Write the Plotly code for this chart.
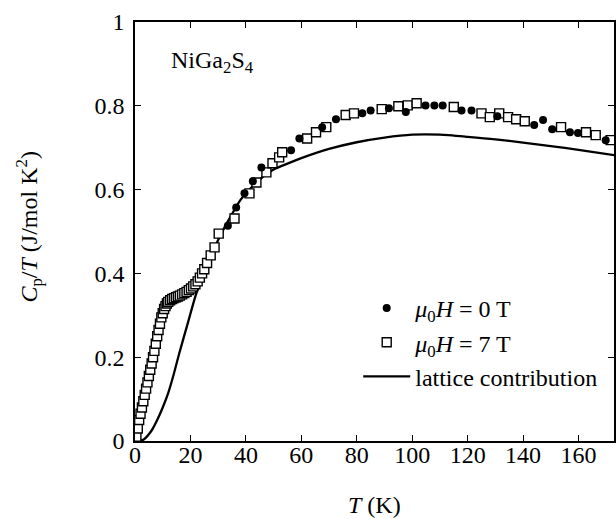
import plotly.graph_objects as go

# ---- data ----
T_0T = [33.5, 36.5, 39.5, 42.5, 45.6, 56.3, 59.3, 67.5, 72.5, 82.0, 85.0, 91.6, 97.7,
        104.8, 108.0, 111.0, 117.8, 121.4, 130.7, 144.0, 147.2, 150.5, 156.9, 159.8, 169.8]
C_0T = [0.514, 0.557, 0.591, 0.620, 0.653, 0.694, 0.722, 0.749, 0.768, 0.782, 0.789, 0.794, 0.785,
        0.801, 0.801, 0.801, 0.789, 0.789, 0.775, 0.754, 0.766, 0.744, 0.737, 0.735, 0.718]

T_7T = [0.5, 1.0, 1.5, 2.0, 2.5, 3.0, 3.5, 4.0, 4.5, 5.0, 5.5, 6.0, 6.5, 7.0, 7.5, 8.0, 8.5,
        9.0, 9.5, 10.0, 10.5, 11.0, 11.5, 12.0, 12.7, 13.4, 14.1, 14.8, 15.5, 16.2, 17.0,
        17.8, 18.6, 19.4, 20.2, 21.0, 21.8, 22.6, 23.4, 24.2, 25.0, 26.0, 27.3, 28.7, 30.2,
        35.9, 41.3, 43.8, 47.4, 49.6, 52.0, 53.1, 62.1, 65.3, 69.0, 76.0, 79.0, 89.0, 95.0,
        98.4, 101.6, 115.0, 125.0, 128.0, 131.4, 134.6, 137.5, 140.6, 153.7, 162.7, 166.2, 171.6]
C_7T = [0.010, 0.030, 0.050, 0.065, 0.080, 0.095, 0.110, 0.125, 0.140, 0.155, 0.170, 0.185,
        0.200, 0.215, 0.232, 0.250, 0.265, 0.280, 0.295, 0.305, 0.315, 0.322, 0.328, 0.332,
        0.336, 0.339, 0.341, 0.343, 0.345, 0.347, 0.350, 0.353, 0.356, 0.360, 0.364, 0.369,
        0.374, 0.381, 0.390, 0.400, 0.410, 0.425, 0.443, 0.462, 0.495, 0.531, 0.591, 0.617,
        0.641, 0.663, 0.677, 0.689, 0.722, 0.737, 0.749, 0.778, 0.782, 0.792, 0.799, 0.801,
        0.806, 0.797, 0.782, 0.773, 0.782, 0.773, 0.768, 0.763, 0.749, 0.737, 0.730, 0.718]

T_lat = [0, 3, 6, 8, 10, 12, 14, 16, 19, 22, 26, 30, 34, 38, 42, 46, 50, 55, 60, 70, 80, 90,
         100, 110, 120, 130, 140, 150, 160, 173]
C_lat = [0.0, 0.003, 0.025, 0.05, 0.08, 0.115, 0.16, 0.21, 0.28, 0.35, 0.42, 0.48, 0.53,
         0.575, 0.605, 0.63, 0.648, 0.662, 0.675, 0.697, 0.713, 0.724, 0.731, 0.731, 0.726,
         0.72, 0.712, 0.704, 0.695, 0.682]

x_ticks = [0, 20, 40, 60, 80, 100, 120, 140, 160]
y_ticks = [0, 0.2, 0.4, 0.6, 0.8, 1]
y_ticklabels = ["0", "0.2", "0.4", "0.6", "0.8", "1"]

FONT = "Liberation Serif, Times New Roman, serif"

fig = go.Figure()
fig.add_trace(go.Scatter(
    x=T_lat, y=C_lat, mode="lines", name="lattice contribution",
    line=dict(color="black", width=2.3, shape="spline", smoothing=0.6),
    legendrank=3, legendgroup="c"))
fig.add_trace(go.Scatter(
    x=T_7T, y=C_7T, mode="markers",
    name="<i>μ</i><sub>0</sub><i>H</i> = 7 T",
    marker=dict(symbol="square", size=9, color="white",
                line=dict(color="black", width=1.4)),
    legendrank=2, legendgroup="b"))
fig.add_trace(go.Scatter(
    x=T_0T, y=C_0T, mode="markers",
    name="<i>μ</i><sub>0</sub><i>H</i> = 0 T",
    marker=dict(symbol="circle", size=8, color="black"),
    legendrank=1, legendgroup="a"))

axis_common = dict(
    showline=True, linecolor="black", linewidth=1.5, mirror="ticks",
    ticks="inside", ticklen=6, tickwidth=1.2, tickcolor="black",
    showgrid=False, zeroline=False,
    tickfont=dict(family=FONT, size=24, color="black"),
)

fig.update_xaxes(range=[0, 172.8], tickvals=x_ticks, ticklabelstandoff=-9, **axis_common)
fig.update_yaxes(range=[0, 1], tickvals=y_ticks, ticktext=y_ticklabels,
                 ticklabelstandoff=4, **axis_common)

fig.add_annotation(
    text="<i>T</i> (K)", xref="paper", yref="paper", x=0.5, y=-0.152,
    xanchor="center", yanchor="middle", showarrow=False,
    font=dict(family=FONT, size=24, color="black"))
fig.add_annotation(
    text="<i>C</i><sub>p</sub>/<i>T</i> (J/mol K<sup>2</sup>)", xref="paper", yref="paper",
    x=-0.221, y=0.512, textangle=-90, xanchor="center", yanchor="middle",
    showarrow=False, font=dict(family=FONT, size=24, color="black"))
fig.add_annotation(
    text="NiGa<sub>2</sub>S<sub>4</sub>", xref="paper", yref="paper",
    x=0.07, y=0.905, xanchor="left", yanchor="middle", showarrow=False,
    font=dict(family=FONT, size=24, color="black"))

fig.update_layout(
    width=616, height=519,
    margin=dict(l=135, r=0, t=22, b=78),
    plot_bgcolor="white", paper_bgcolor="white",
    showlegend=True,
    legend=dict(x=0.466, y=0.37, xanchor="left", yanchor="top",
                bgcolor="rgba(0,0,0,0)", borderwidth=0,
                font=dict(family=FONT, size=24, color="black"),
                itemwidth=47, tracegroupgap=1, traceorder="normal"),
    font=dict(family=FONT, size=24, color="black"),
)

fig.write_html("out.html")
